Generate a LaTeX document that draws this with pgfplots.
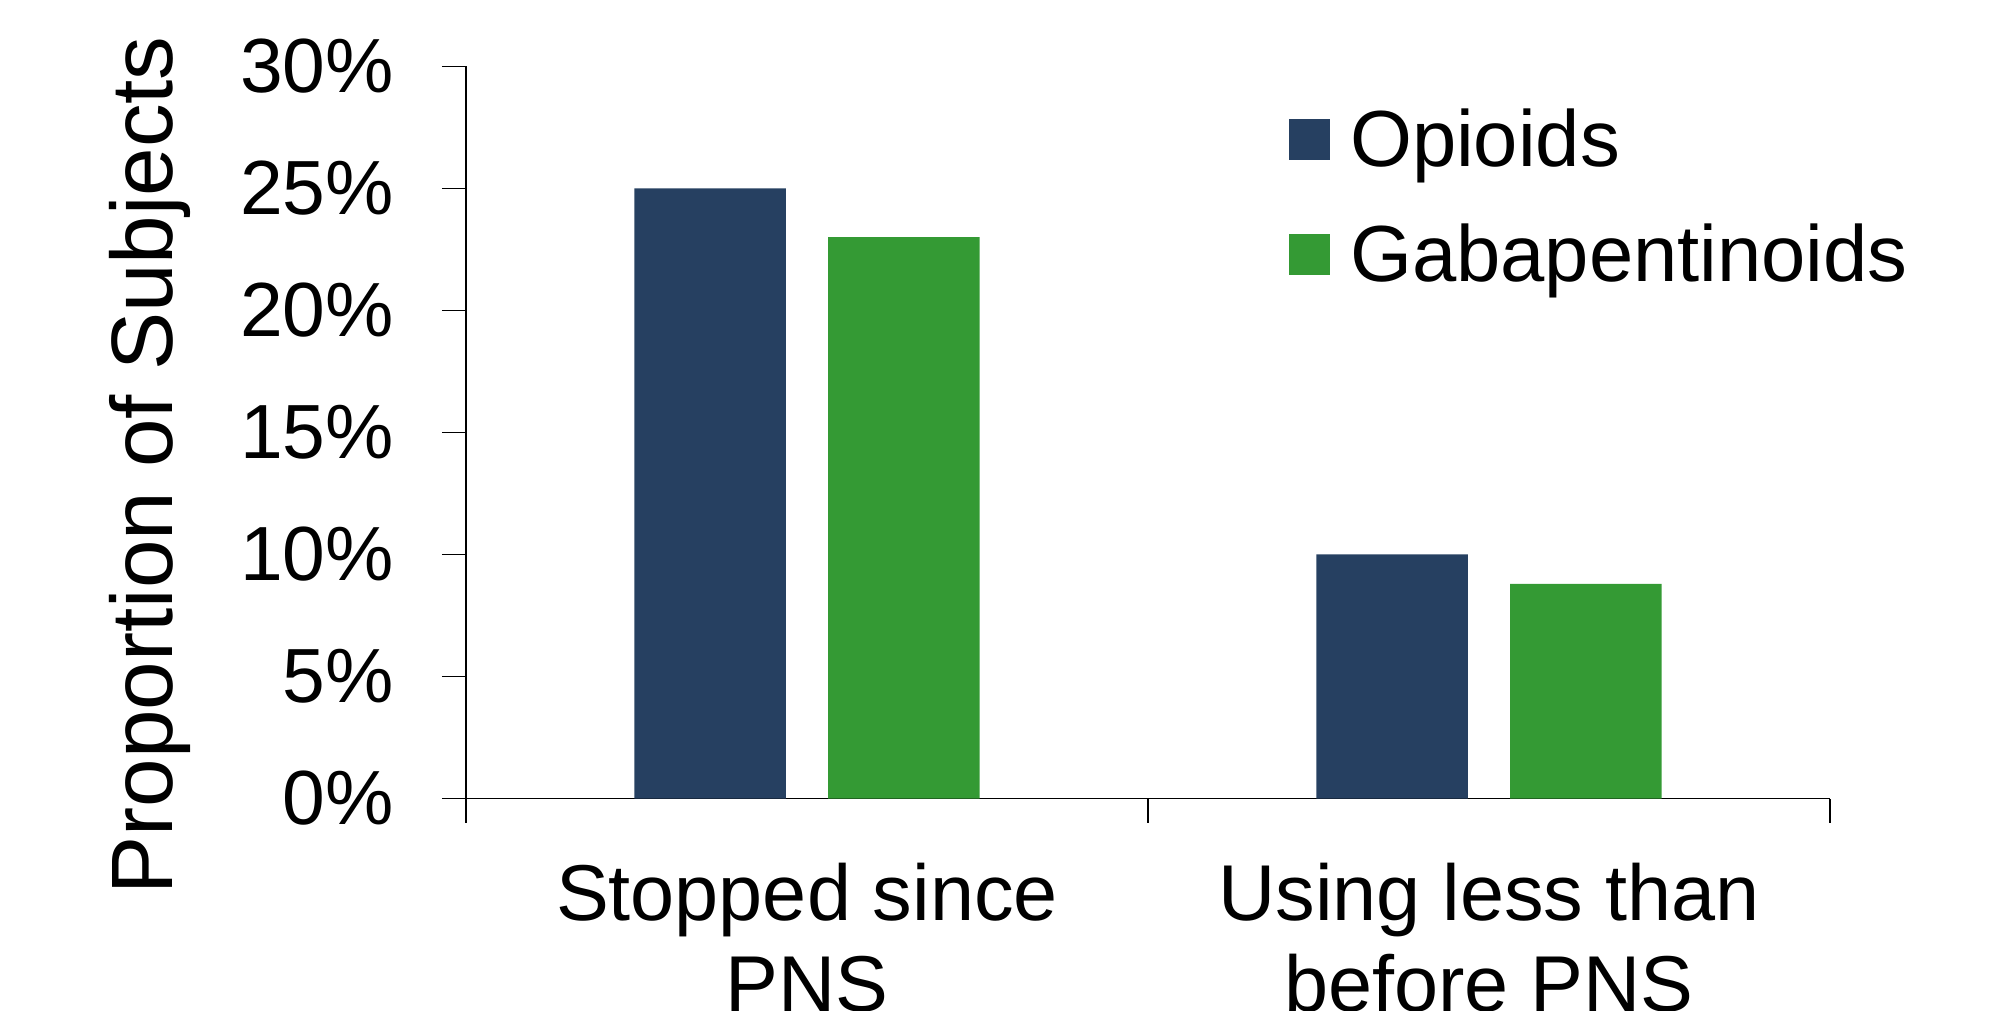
\documentclass[border=0pt]{standalone}
\usepackage{fontspec}
\setmainfont{Liberation Sans}
\usepackage{pgfplots}
\pgfplotsset{compat=1.18}
\definecolor{opioid}{HTML}{264061}
\definecolor{gaba}{HTML}{349A34}
\begin{document}
\begin{tikzpicture}
\useasboundingbox (-116.5pt,-52.875pt) rectangle (382.75pt,199.625pt);
\begin{axis}[
    at={(0,0)}, anchor=south west,
    scale only axis,
    width=341pt, height=183.03pt,
    xmin=-0.5, xmax=1.5,
    ymin=0, ymax=30,
    axis x line=bottom, axis y line=left,
    axis line style={-, black, line width=0.4pt},
    tick align=outside,
    major tick length=6pt,
    tick style={black, line width=0.4pt},
    ytick={0,5,...,30},
    yticklabels={0\%,5\%,10\%,15\%,20\%,25\%,30\%},
    yticklabel style={anchor=east, inner sep=0pt, xshift=-11.8pt,
        font=\fontsize{19.2}{23}\selectfont},
    xtick={-0.5,0.5,1.5},
    xticklabels={,,},
    extra x ticks={0,1},
    extra x tick labels={{Stopped since\\PNS},{Using less than\\before PNS}},
    extra x tick style={tick style={draw=none}},
    xticklabel style={align=center, anchor=north, inner sep=0pt, yshift=-9.9pt,
        font=\fontsize{19.8}{22.75}\selectfont},
    ylabel={Proportion of Subjects},
    ylabel style={at={(rel axis cs:-0.215,-0.1318)}, anchor=base west,
        inner sep=0pt, font=\fontsize{21.8}{26}\selectfont},
    legend style={at={(rel axis cs:0.6033,0.94)}, anchor=north west,
        draw=none, fill=none, inner sep=0pt, outer sep=0pt,
        row sep=10.2pt, column sep=5.1pt,
        font=\fontsize{19.9}{24}\selectfont,
        nodes={inner sep=0pt, text height=14pt, text depth=4.5pt}},
    legend cell align=left,
]
\addplot[ybar, bar width=0.222, bar shift=-0.142, fill=opioid, draw=none,
    legend image code/.code={\fill[opioid] (0pt,-3.2pt) rectangle (10.2pt,7pt);}]
    coordinates {(0,25) (1,10)};
\addlegendentry{Opioids}
\addplot[ybar, bar width=0.222, bar shift=0.142, fill=gaba, draw=none,
    legend image code/.code={\fill[gaba] (0pt,-3.2pt) rectangle (10.2pt,7pt);}]
    coordinates {(0,23) (1,8.8)};
\addlegendentry{Gabapentinoids}
\end{axis}
\end{tikzpicture}
\end{document}
